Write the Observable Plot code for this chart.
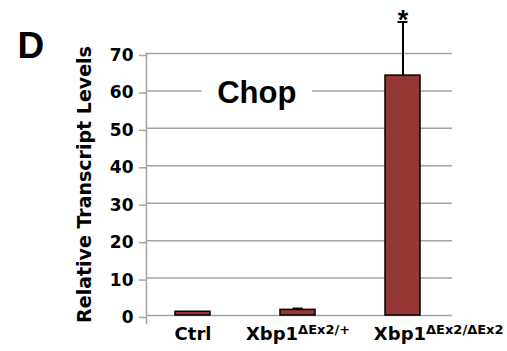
<!DOCTYPE html>
<html><head><meta charset="utf-8">
<script src="https://cdn.jsdelivr.net/npm/d3@7"></script>
<script src="https://cdn.jsdelivr.net/npm/@observablehq/plot@0.6"></script>
<style>body{margin:0;background:#fff}svg{display:block}</style>
</head><body><div id="chart"></div>
<script>
const categories = ["Ctrl", "Xbp1ΔEx2/+", "Xbp1ΔEx2/ΔEx2"];
const baseLabels = ["Ctrl", "Xbp1", "Xbp1"];
const supLabels = ["", "ΔEx2/+", "ΔEx2/ΔEx2"];
const means = [1.0, 1.5, 64.1];
const errors = [0, 0.35, 14.3];
const significance = ["", "", "*"];
const yTicks = [0, 10, 20, 30, 40, 50, 60, 70];
const panelLabel = "D";
const geneName = "Chop";
const yLabel = "Relative Transcript Levels";

const rows = categories.map((c, i) => ({
  cat: c, base: baseLabels[i], sup: supLabels[i],
  mean: means[i], err: errors[i], top: means[i] + errors[i], sig: significance[i]
}));
const withErr = rows.filter(d => d.err > 0);
const withSig = rows.filter(d => d.sig);

const gray = "#a3a3a3";
const axisFont = "'DejaVu Sans', sans-serif";
const titleFont = "'Liberation Sans', Arial, sans-serif";

const svg = Plot.plot({
  width: 507, height: 351,
  marginTop: 53, marginBottom: 36, marginLeft: 146, marginRight: 55,
  style: {fontFamily: titleFont, background: "white", color: "black"},
  x: {domain: categories, range: [173.8, 420.2], paddingInner: 0.668, paddingOuter: 0, axis: null},
  y: {domain: [0, 70], axis: null},
  marks: [
    Plot.ruleY(yTicks, {stroke: gray, strokeWidth: 1.5}),
    Plot.frame({anchor: "left", stroke: gray, strokeWidth: 1.5, insetBottom: -8}),
    Plot.axisY({ticks: yTicks, tickSize: 7, tickPadding: 6, stroke: gray, strokeWidth: 1.5,
      fill: "black", fontSize: 17, fontWeight: "bold", fontFamily: axisFont, dy: 2, label: null}),
    Plot.text([{label: geneName, y: 60}], {text: "label", y: "y", frameAnchor: "left", dx: 110.3, dy: 2,
      textAnchor: "middle", fontSize: 31, fontWeight: "bold", fill: "black",
      stroke: "white", strokeWidth: 34}),
    Plot.barY(rows, {x: "cat", y: "mean", fill: "#953735", stroke: "black", strokeWidth: 1.5}),
    Plot.ruleX(withErr, {x: "cat", y1: "mean", y2: "top", stroke: "black", strokeWidth: 2}),
    Plot.tickY(withErr, {x: "cat", y: "top", stroke: "black", strokeWidth: 2, insetLeft: 12.5, insetRight: 12.5}),
    Plot.text(withSig, {x: "cat", y: "top", text: "sig", fontSize: 27, fontWeight: "bold",
      lineAnchor: "bottom", dy: 6.5, fill: "black"}),
    Plot.text([panelLabel], {frameAnchor: "top-left", textAnchor: "start", lineAnchor: "bottom",
      dx: -129, dy: 4.3, fontSize: 37, fontWeight: "bold", fill: "black"}),
    Plot.text([yLabel], {frameAnchor: "left", rotate: -90, textAnchor: "middle", lineAnchor: "bottom",
      dx: -56, fontSize: 19, fontWeight: "bold", fontFamily: axisFont, fill: "black"}),
    Plot.text(rows.slice(0, 2), {x: "cat", frameAnchor: "bottom", text: "cat", textAnchor: "middle",
      lineAnchor: "bottom", dy: 24.5, fontSize: 18, fontWeight: "bold", fontFamily: axisFont,
      fill: "black"}),
    Plot.text(rows.slice(2), {x: "cat", frameAnchor: "bottom", text: "cat", textAnchor: "middle",
      lineAnchor: "bottom", dx: 35.7, dy: 24.5, fontSize: 18, fontWeight: "bold", fontFamily: axisFont,
      fill: "black"})
  ]
});

d3.select(svg).selectAll("text").each(function() {
  const name = this.textContent;
  const r = rows.find(d => d.cat === name && d.sup);
  if (!r) return;
  const t = d3.select(this);
  t.text(null);
  t.append("tspan").text(r.base);
  t.append("tspan").attr("dy", -6).attr("font-size", 13).text(r.sup);
});

document.getElementById("chart").appendChild(svg);
</script>
</body></html>
